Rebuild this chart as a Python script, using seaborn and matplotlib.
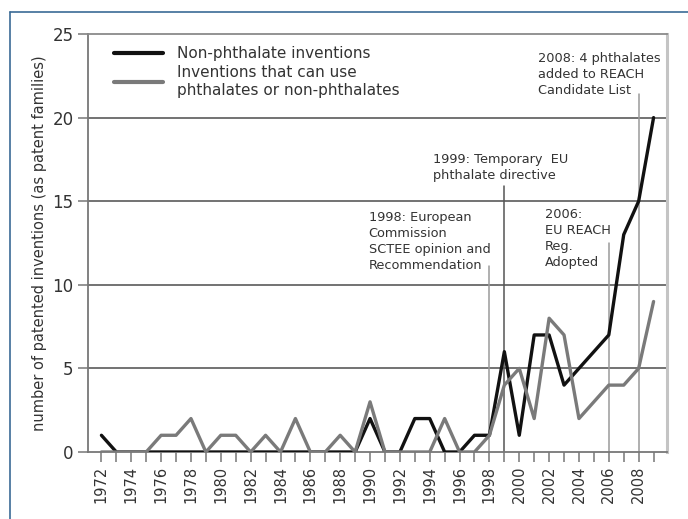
import pandas as pd
import numpy as np
import seaborn as sns
import matplotlib.pyplot as plt
from matplotlib.lines import Line2D

# datos
years = list(range(1972, 2010))
non_phthalate = [1, 0, 0, 0, 0, 0, 0, 0, 0, 0, 0, 0, 0, 0, 0, 0, 0, 0, 2, 0,
                 0, 2, 2, 0, 0, 1, 1, 6, 1, 7, 7, 4, 5, 6, 7, 13, 15, 20]
either = [0, 0, 0, 0, 1, 1, 2, 0, 1, 1, 0, 1, 0, 2, 0, 0, 1, 0, 3, 0,
          0, 0, 0, 2, 0, 0, 1, 4, 5, 2, 8, 7, 2, 3, 4, 4, 5, 9]
series_names = ['Non-phthalate inventions',
                'Inventions that can use\nphthalates or non-phthalates']
series_colors = ['#111111', '#7a7a7a']

# eventos (ano, altura de la linea, texto)
event_years = [1998, 1999, 2006, 2008]
event_tops = [11.1, 15.9, 12.5, 21.4]
event_texts = ['1998: European\nCommission\nSCTEE opinion and\nRecommendation',
               '1999: Temporary  EU\nphthalate directive',
               '2006:\nEU REACH\nReg.\nAdopted',
               '2008: 4 phthalates\nadded to REACH\nCandidate List']
text_x = [1989.9, 1994.2, 2001.7, 2001.25]
text_y = [14.4, 17.9, 14.6, 23.9]
event_colors = ['#9a9a9a', '#555555', '#9a9a9a', '#9a9a9a']

df = pd.DataFrame({
    'year': years * 2,
    'count': non_phthalate + either,
    'series': [series_names[0]] * len(years) + [series_names[1]] * len(years),
})

sns.set_style('white')
plt.rcParams['font.family'] = ['DejaVu Sans']
txt = '#333333'

fig = plt.figure(figsize=(6.88, 5.19), dpi=100)
ax = fig.add_axes([88 / 688, 67 / 519, 579 / 688, 418 / 519])

# lineas horizontales
for yv in [5, 10, 15, 20]:
    ax.axhline(yv, color='#5a5a5a', lw=1.2, zorder=1)

# lineas de eventos
for ex, top, c in zip(event_years, event_tops, event_colors):
    ax.plot([ex, ex], [0, top], color=c, lw=1.1, zorder=1)

# la serie negra primero, la gris encima
sns.lineplot(data=df, x='year', y='count', hue='series',
             palette=dict(zip(series_names, series_colors)), hue_order=series_names,
             linewidth=2.4, ax=ax, zorder=3)

for x, y, t in zip(text_x, text_y, event_texts):
    ax.text(x, y, t, fontsize=9.3, color=txt, va='top', ha='left', linespacing=1.3)

ax.set_xlim(1971.1, 2009.9)
ax.set_ylim(0, 25)
ax.set_xticks(years)
ax.set_xticklabels([str(y) if y % 2 == 0 else '' for y in years],
                   rotation=90, fontsize=10.5, color=txt)
ax.set_yticks([0, 5, 10, 15, 20, 25])
ax.set_yticklabels(['0', '5', '10', '15', '20', '25'], fontsize=12, color=txt)
ax.tick_params(axis='both', direction='out', length=7, width=1.1, color='#777777',
               bottom=True, left=True)
ax.tick_params(axis='x', pad=3)
ax.set_xlabel('')
ax.set_ylabel('number of patented inventions (as patent families)',
              fontsize=10.5, color=txt, labelpad=4)

ax.spines['left'].set_color('#777777')
ax.spines['left'].set_linewidth(1.3)
ax.spines['bottom'].set_color('#777777')
ax.spines['bottom'].set_linewidth(1.3)
ax.spines['top'].set_color('#8a8a8a')
ax.spines['top'].set_linewidth(1.3)
ax.spines['right'].set_color('#c4c4c4')
ax.spines['right'].set_linewidth(2.2)

# leyenda
handles = [Line2D([], [], color=c, lw=3) for c in series_colors]
leg = ax.legend(handles, series_names, loc='upper left', bbox_to_anchor=(0.035, 0.985),
                frameon=False, fontsize=11, handlelength=3.2, handletextpad=0.9,
                labelspacing=0.25, borderaxespad=0)
for t in leg.get_texts():
    t.set_color(txt)

# borde de la figura
fig.add_artist(Line2D([10 / 688, 1], [1 - 12 / 519, 1 - 12 / 519], color='#3b6b96', lw=1.2))
fig.add_artist(Line2D([10 / 688, 10 / 688], [0, 1 - 12 / 519], color='#3b6b96', lw=1.2))

fig.savefig('out.png', dpi=100)
